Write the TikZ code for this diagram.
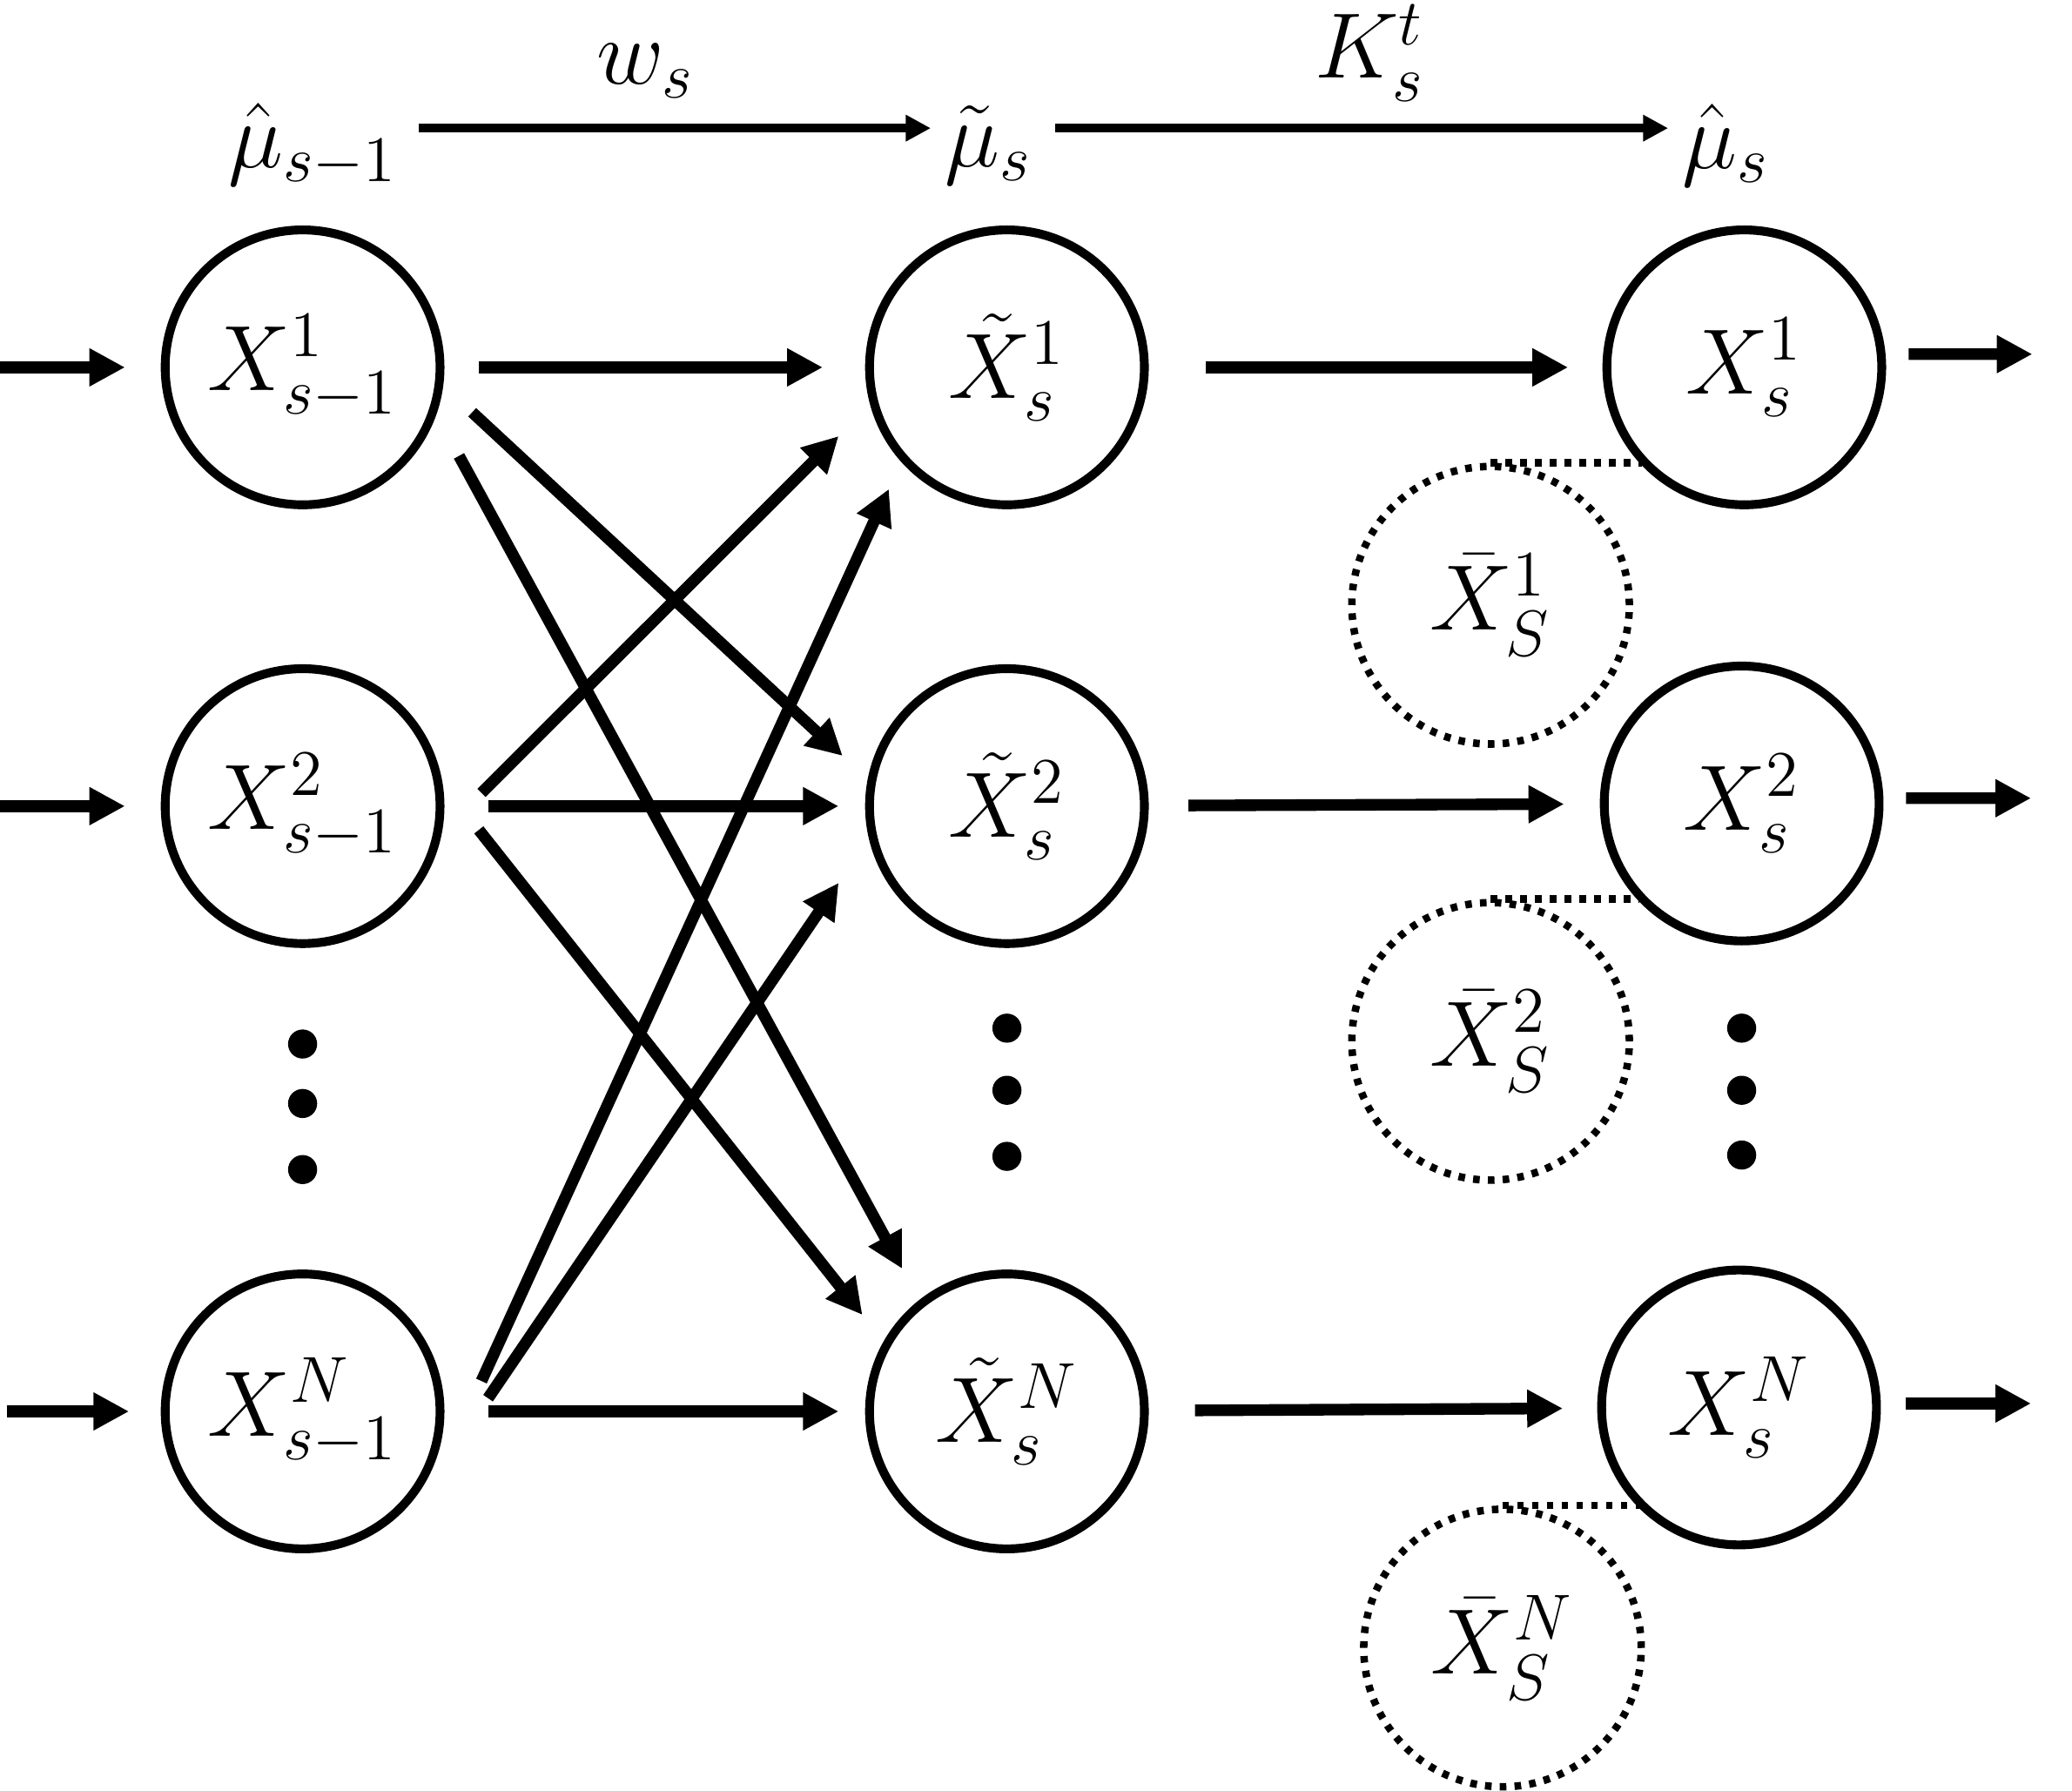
\RequirePackage{fix-cm}
\documentclass[tikz,border=0pt]{standalone}
\usepackage{amsmath}
\usetikzlibrary{arrows.meta}

\begin{document}
\begin{tikzpicture}[font=\fontsize{20}{24}\selectfont,
    >={Triangle[length=0.27cm,width=0.27cm]}]

        \useasboundingbox (0,0) rectangle (15.68,13.55);

        % labels over the columns
        \begin{scope}[every node/.style={inner sep=0.1cm}]
          \node (u0) at (2.37,12.45) {$\hat{\mu}_{s-1}$};
          \node (u1) at (7.48,12.45) {$\tilde{\mu}_{s}$};
          \node (u2) at (13.06,12.45) {$\hat{\mu}_{s}$};
        \end{scope}

        \begin{scope}[every node/.style={circle,draw,line width=1.9pt,minimum size=2.08cm,inner sep=0pt}]
          \node (a1) at (2.29,10.77) {$X^{1}_{s-1}$};
          \node (a2) at (2.29,7.45)  {$X^{2}_{s-1}$};
          \node (aN) at (2.29,2.87)  {$X^{N}_{s-1}$};
          \node (b1) at (7.62,10.77) {$\tilde{X}^{1}_{s}$};
          \node (b2) at (7.62,7.45)  {$\tilde{X}^{2}_{s}$};
          \node (bN) at (7.62,2.87)  {$\tilde{X}^{N}_{s}$};
          \node (c1) at (13.20,10.77) {$X^{1}_{s}$};
          \node (c2) at (13.18,7.47)  {$X^{2}_{s}$};
          \node (cN) at (13.16,2.90)  {$X^{N}_{s}$};
        \end{scope}

        \begin{scope}[every node/.style={circle,draw,line width=1.6pt,dash pattern=on 0.05cm off 0.062cm,minimum size=2.1cm,inner sep=0pt}]
          \node (d1) at (11.28,8.97) {$\bar{X}^{1}_{S}$};
          \node (d2) at (11.28,5.67) {$\bar{X}^{2}_{S}$};
          \node (dN) at (11.37,1.08) {$\bar{X}^{N}_{S}$};
        \end{scope}

        % vertical dots
        \begin{scope}[every node/.style={circle,fill,minimum size=0.22cm,inner sep=0pt}]
          \node (p1) at (2.29,5.65) {};
          \node (p2) at (2.29,5.20) {};
          \node (p3) at (2.29,4.70) {};
          \node (q1) at (7.62,5.77) {};
          \node (q2) at (7.62,5.30) {};
          \node (q3) at (7.62,4.80) {};
          \node (s1) at (13.18,5.77) {};
          \node (s2) at (13.18,5.30) {};
          \node (s3) at (13.18,4.81) {};
        \end{scope}

        \coordinate (i1) at (0,10.77);
        \coordinate (i2) at (0,7.45);
        \coordinate (iN) at (0.05,2.87);
        \coordinate (o1) at (15.38,10.87);
        \coordinate (o2) at (15.37,7.51);
        \coordinate (oN) at (15.37,2.93);

        % top arrows
        \begin{scope}[every edge/.style={draw,->,line width=1.9pt,>={Triangle[length=0.19cm,width=0.19cm]}},
                      every node/.style={above=0.08cm}]
          \path ([yshift=0.13cm]u0.east) edge[shorten <=0.05cm] node[pos=0.45] {$w_{s}$} ([yshift=0.13cm]u1.west);
          \path ([yshift=0.13cm]u1.east) edge[shorten <=0.07cm] node[pos=0.52,above=0.06cm,inner sep=0.03cm] {$K^{t}_{s}$} ([yshift=0.13cm]u2.west);
        \end{scope}

        \begin{scope}[every edge/.style={draw,->,line width=2.5pt}]
          % in and out
          \path (i1) edge[shorten >=0.27cm] (a1);
          \path (i2) edge[shorten >=0.27cm] (a2);
          \path (iN) edge[shorten >=0.24cm] (aN);
          \path ([yshift=0.1cm]c1.east) edge[shorten <=0.17cm] (o1);
          \path ([yshift=0.04cm]c2.east) edge[shorten <=0.17cm] (o2);
          \path ([yshift=0.03cm]cN.east) edge[shorten <=0.19cm] (oN);
          % straight
          \path (a1) edge[shorten <=0.26cm,shorten >=0.32cm] (b1);
          \path (a2) edge[shorten <=0.33cm,shorten >=0.2cm] (b2);
          \path (aN) edge[shorten <=0.33cm,shorten >=0.2cm] (bN);
          \path (b1) edge[shorten <=0.43cm,shorten >=0.26cm] (c1);
          \path (b2) edge[shorten <=0.3cm,shorten >=0.27cm] (c2);
          \path (bN) edge[shorten <=0.35cm,shorten >=0.26cm] (cN);
          % crossing
          \path ([xshift=0.21cm,yshift=-0.34cm]a1.east) edge ([xshift=-0.17cm,yshift=0.38cm]b2.west);
          \path ([xshift=0.11cm,yshift=-0.67cm]a1.east) edge ([xshift=0.28cm,yshift=1.08cm]bN.west);
          \path ([xshift=0.28cm,yshift=0.1cm]a2.east)   edge ([xshift=-0.2cm,yshift=-0.52cm]b1.west);
          \path ([xshift=0.26cm,yshift=-0.18cm]a2.east) edge ([xshift=-0.02cm,yshift=0.73cm]bN.west);
          \path ([xshift=0.28cm,yshift=0.23cm]aN.east)  edge ([xshift=0.18cm,yshift=-0.92cm]b1.west);
          \path ([xshift=0.33cm,yshift=0.1cm]aN.east)   edge ([xshift=-0.2cm,yshift=-0.58cm]b2.west);
        \end{scope}

        % dotted links
        \begin{scope}[every edge/.style={draw,line width=1.6pt,dash pattern=on 0.05cm off 0.062cm}]
          \path (d1.north) edge (d1.north -| c1.224);
          \path (d2.north) edge (d2.north -| c2.224);
          \path (dN.north) edge (dN.north -| cN.226);
        \end{scope}

      \end{tikzpicture}
\end{document}
